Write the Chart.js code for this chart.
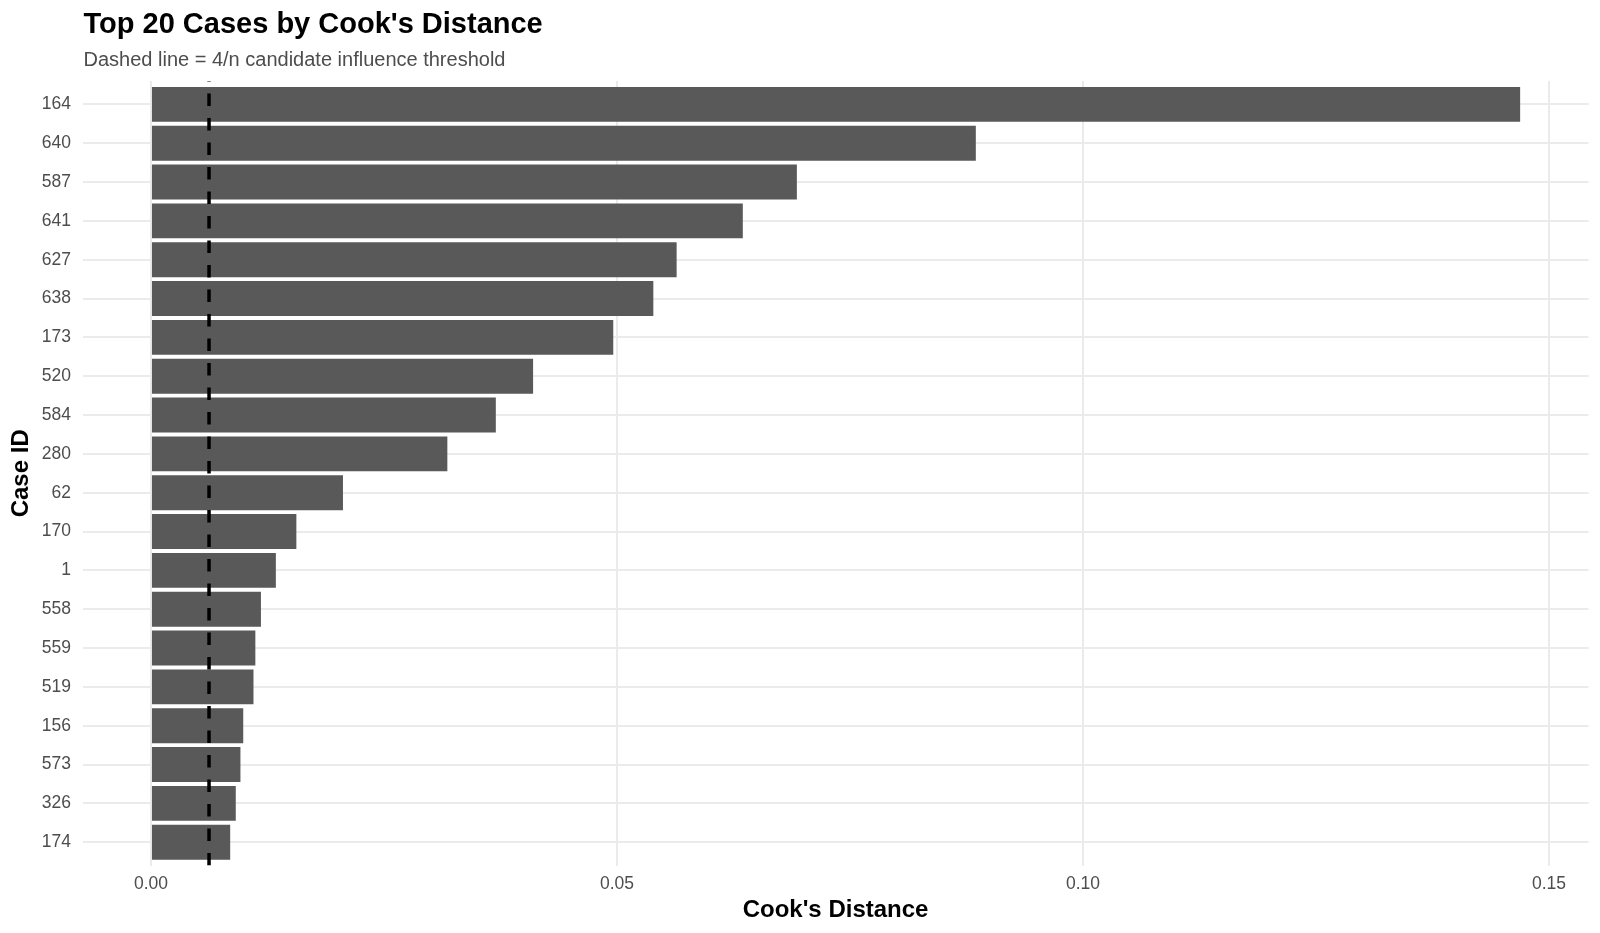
<!DOCTYPE html>
<html>
<head>
<meta charset="utf-8">
<script src="https://cdn.jsdelivr.net/npm/chart.js@4.4.1/dist/chart.umd.min.js"></script>
<style>
  html, body { margin: 0; padding: 0; background: #ffffff; }
  #wrap { width: 1600px; height: 933px; }
</style>
</head>
<body>
<div id="wrap"><canvas id="cooksChart" width="1600" height="933"></canvas></div>
<script>
// Top 20 cases, ordered largest first (top of the chart)
const caseIds = ['164', '640', '587', '641', '627', '638', '173', '520', '584', '280',
                 '62', '170', '1', '558', '559', '519', '156', '573', '326', '174'];
const cooksD = [0.1469, 0.0885, 0.0693, 0.0635, 0.0564, 0.0539, 0.0496, 0.0410, 0.0370, 0.0318,
                0.0206, 0.0156, 0.0134, 0.0118, 0.0112, 0.0110, 0.0099, 0.0096, 0.0091, 0.0085];
const xTickValues = [0, 0.05, 0.10, 0.15];
const threshold = 4 / 642;

const titleText = "Top 20 Cases by Cook's Distance";
const subtitleText = 'Dashed line = 4/n candidate influence threshold';

Chart.defaults.font.family = "'Liberation Sans', Arial, Helvetica, sans-serif";

// ggplot-like expansion: 5% on the value axis, 0.6 on the discrete axis
const dataMax = Math.max(...cooksD);
const xMin = -0.05 * dataMax;
const xMax = dataMax * 1.05;

// Title, subtitle and the dashed threshold line
const decorPlugin = {
    id: 'decor',
    afterDatasetsDraw(chart) {
        const ctx = chart.ctx;
        const area = chart.chartArea;
        const xPos = chart.scales.x.getPixelForValue(threshold);
        ctx.save();
        ctx.beginPath();
        ctx.rect(area.left, area.top, area.right - area.left, area.bottom - area.top);
        ctx.clip();
        ctx.strokeStyle = '#000000';
        ctx.lineWidth = 3.5;
        ctx.setLineDash([12.5, 12]);
        ctx.beginPath();
        ctx.moveTo(xPos, area.bottom);
        ctx.lineTo(xPos, area.top);
        ctx.stroke();
        ctx.restore();
    },
    afterDraw(chart) {
        const ctx = chart.ctx;
        ctx.save();
        ctx.textAlign = 'left';
        ctx.textBaseline = 'alphabetic';
        ctx.fillStyle = '#000000';
        ctx.font = "bold 29px 'Liberation Sans', Arial, sans-serif";
        ctx.fillText(titleText, 83.5, 33.3);
        ctx.fillStyle = '#4d4d4d';
        ctx.font = "20px 'Liberation Sans', Arial, sans-serif";
        ctx.fillText(subtitleText, 83.5, 65.7);
        ctx.restore();
    }
};

const ctx = document.getElementById('cooksChart').getContext('2d');

new Chart(ctx, {
    type: 'bar',
    data: {
        datasets: [{
            label: "Cook's Distance",
            data: cooksD.map((v, i) => ({ x: v, y: i })),
            backgroundColor: '#595959',
            borderWidth: 0,
            categoryPercentage: 1.0,
            barPercentage: 0.9
        }]
    },
    options: {
        indexAxis: 'y',
        responsive: false,
        animation: false,
        layout: {
            padding: { top: 81.1, right: 11.4, bottom: 0, left: 0 }
        },
        plugins: {
            legend: { display: false },
            tooltip: { enabled: false },
            title: { display: false }
        },
        scales: {
            x: {
                type: 'linear',
                position: 'bottom',
                min: xMin,
                max: xMax,
                bounds: 'data',
                offset: false,
                afterBuildTicks: function(scale) {
                    scale.ticks = xTickValues.map(v => ({ value: v }));
                },
                afterFit: function(scale) {
                    scale.height = 67.5;
                },
                grid: {
                    color: '#ebebeb',
                    lineWidth: 2,
                    drawTicks: false,
                    offset: false
                },
                border: { display: false },
                ticks: {
                    color: '#4d4d4d',
                    font: { size: 17.5 },
                    padding: 7.8,
                    callback: function(value) {
                        return Number(value).toFixed(2);
                    }
                },
                title: {
                    display: true,
                    text: "Cook's Distance",
                    color: '#000000',
                    font: { size: 24, weight: 'bold' },
                    padding: { top: 0, bottom: 8.5 }
                }
            },
            y: {
                type: 'linear',
                position: 'left',
                reverse: true,
                min: -0.6,
                max: caseIds.length - 1 + 0.6,
                bounds: 'data',
                offset: false,
                afterBuildTicks: function(scale) {
                    scale.ticks = caseIds.map((_, i) => ({ value: i }));
                },
                afterFit: function(scale) {
                    scale.width = 82.5;
                },
                grid: {
                    color: '#ebebeb',
                    lineWidth: 2,
                    drawTicks: false,
                    offset: false
                },
                border: { display: false },
                ticks: {
                    color: '#4d4d4d',
                    font: { size: 17.5 },
                    padding: 11.5,
                    autoSkip: false,
                    callback: function(value) {
                        return caseIds[Math.round(value)];
                    }
                },
                title: {
                    display: true,
                    text: 'Case ID',
                    color: '#000000',
                    font: { size: 24, weight: 'bold' },
                    padding: { top: 7, bottom: 0 }
                }
            }
        }
    },
    plugins: [decorPlugin]
});
</script>
</body>
</html>
